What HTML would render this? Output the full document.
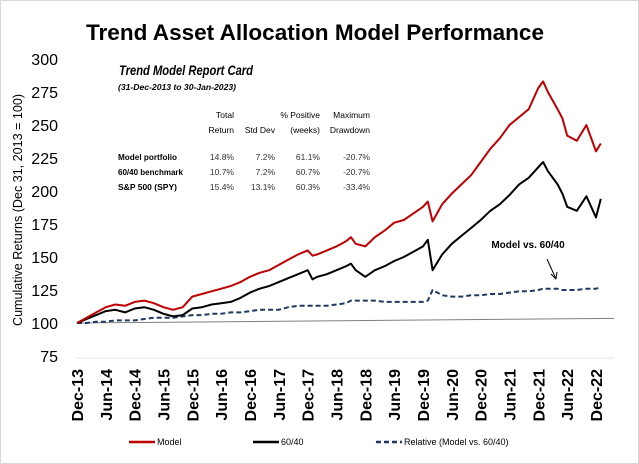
<!DOCTYPE html>
<html><head><meta charset="utf-8"><style>
body{margin:0;background:#fff;}
svg{display:block;font-family:"Liberation Sans",sans-serif;}
</style></head><body>
<svg id="c" width="639" height="464" viewBox="0 0 639 464">
<rect x="0.5" y="0.5" width="638" height="463" fill="#fff" stroke="#d9d9d9"/>
<text x="315" y="40" text-anchor="middle" font-size="22" font-weight="bold" textLength="458" lengthAdjust="spacingAndGlyphs">Trend Asset Allocation Model Performance</text>
<text transform="translate(22,210) rotate(-90)" text-anchor="middle" font-size="13" textLength="232" lengthAdjust="spacingAndGlyphs">Cumulative Returns (Dec 31, 2013 = 100)</text>
<g id="yt"></g>
<g id="xt"></g>
<g id="series"></g>
<g font-size="8.5">
<text x="119" y="75" font-size="14" font-weight="bold" font-style="italic" textLength="134" lengthAdjust="spacingAndGlyphs">Trend Model Report Card</text>
<text x="118" y="90" font-size="8" font-weight="bold" font-style="italic" textLength="118" lengthAdjust="spacingAndGlyphs">(31-Dec-2013 to 30-Jan-2023)</text>
<g text-anchor="end">
<text x="234" y="118">Total</text><text x="234" y="133">Return</text>
<text x="275" y="133">Std Dev</text>
<text x="320" y="118">% Positive</text><text x="320" y="133">(weeks)</text>
<text x="370" y="118">Maximum</text><text x="370" y="133">Drawdown</text>
</g>
<g>
<text x="118" y="160" font-weight="bold" textLength="59" lengthAdjust="spacingAndGlyphs">Model portfolio</text>
<text x="118" y="175" font-weight="bold" textLength="65" lengthAdjust="spacingAndGlyphs">60/40 benchmark</text>
<text x="118" y="190" font-weight="bold" textLength="59" lengthAdjust="spacingAndGlyphs">S&amp;P 500 (SPY)</text>
<g text-anchor="end" fill="#333">
<text x="234" y="160">14.8%</text><text x="275" y="160">7.2%</text><text x="320" y="160">61.1%</text><text x="370" y="160">-20.7%</text>
<text x="234" y="175">10.7%</text><text x="275" y="175">7.2%</text><text x="320" y="175">60.7%</text><text x="370" y="175">-20.7%</text>
<text x="234" y="190">15.4%</text><text x="275" y="190">13.1%</text><text x="320" y="190">60.3%</text><text x="370" y="190">-33.4%</text>
</g></g></g>
<text x="528" y="248" font-size="10" font-weight="bold" text-anchor="middle">Model vs. 60/40</text>
<line x1="547" y1="259" x2="556" y2="279" stroke="#000" stroke-width="1"/>
<path d="M556 279 L551 274 M556 279 L557 272" stroke="#000" stroke-width="1" fill="none"/>
<g font-size="9">
<line x1="129" y1="442" x2="155" y2="442" stroke="#c00000" stroke-width="2.5"/>
<text x="157" y="445">Model</text>
<line x1="253" y1="442" x2="279" y2="442" stroke="#000" stroke-width="2.5"/>
<text x="281" y="445">60/40</text>
<line x1="376" y1="442" x2="402" y2="442" stroke="#1f3864" stroke-width="2.5" stroke-dasharray="5,3"/>
<text x="404" y="445">Relative (Model vs. 60/40)</text>
</g>
</svg>
<script>
const yTicks=[75,100,125,150,175,200,225,250,275,300];
const xLabels=["Dec-13","Jun-14","Dec-14","Jun-15","Dec-15","Jun-16","Dec-16","Jun-17","Dec-17","Jun-18","Dec-18","Jun-19","Dec-19","Jun-20","Dec-20","Jun-21","Dec-21","Jun-22","Dec-22"];
const months=[0,2,4,6,8,10,12,14,16,18,20,22,24,26,28,30,32,34,36,38,40,42,44,46,48,49,50,52,54,56,57,58,60,62,64,66,68,70,72,73,74,76,78,80,82,84,86,88,90,92,94,96,97,98,100,101,102,104,106,108,109];
const model=[100,104,108,112,114,113,116,117,115,112,110,112,120,122,124,126,128,131,135,138,140,144,148,152,155,151,152,155,158,162,165,160,158,165,170,176,178,183,188,192,177,190,198,205,212,222,232,240,250,256,262,278,283,275,262,255,242,238,250,230,236];
const bench=[100,103,106,109,110,108,111,112,110,107,105,106,111,112,114,115,116,119,123,126,128,131,134,137,140,133,135,137,140,143,145,140,135,140,143,147,150,154,158,163,140,152,160,166,172,178,185,190,197,205,210,218,222,215,205,198,188,185,196,180,194];
const rel=[100,100,101,101,102,102,102,103,104,104,104,105,106,106,107,107,108,108,109,110,110,110,112,113,113,113,113,113,114,115,117,117,117,117,116,116,116,116,116,117,125,121,120,120,121,121,122,122,123,124,124,125,126,126,126,125,125,125,126,126,127];
const X0=77,X1=596,Y100=323,PER=33/25;
const x=m=>X0+m*(X1-X0)/108;
const y=v=>Y100-(v-100)*PER;
const ns="http://www.w3.org/2000/svg";
function mk(p,t,a){const e=document.createElementNS(ns,t);for(const k in a)e.setAttribute(k,a[k]);p.appendChild(e);return e;}
const yt=document.getElementById('yt'),xt=document.getElementById('xt'),sg=document.getElementById('series');
yTicks.forEach(v=>{
 const t=mk(yt,'text',{x:58,y:y(v)+6,'text-anchor':'end','font-size':16});
 t.textContent=v;
 
 
});
const base=mk(sg,'line',{x1:x(0),y1:y(75)+2,x2:614,y2:y(75)+2,stroke:'#e6e6e6','stroke-width':1});


xLabels.forEach((l,i)=>{
 const px=x(i*6)+6;
 const t=mk(xt,'text',{transform:`translate(${px},369) rotate(-90)`,'text-anchor':'end','font-size':16,'font-weight':'bold'});
 t.textContent=l;
 
 
});
const ref=mk(sg,'line',{x1:x(0),y1:y(100),x2:614,y2:y(103.5),stroke:'#808080','stroke-width':1});


function line(arr,col,name,dash){
 const d=arr.map((v,i)=>(i?'L':'M')+x(months[i]).toFixed(1)+' '+y(v).toFixed(1)).join(' ');
 const p=mk(sg,'path',{d:d,fill:'none',stroke:col,'stroke-width':2,'stroke-linejoin':'round'});
 if(dash)p.setAttribute('stroke-dasharray',dash);
 
 
}
line(rel,'#1f3864','relative-line','5,3');
line(bench,'#000','benchmark-6040-line');
line(model,'#c00000','model-line');
</script>
</body></html>
